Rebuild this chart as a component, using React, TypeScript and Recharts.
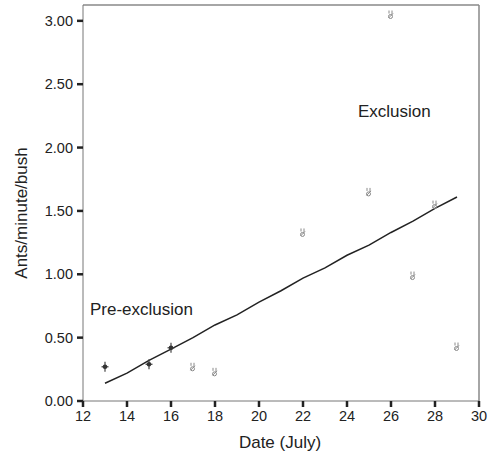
import React from 'react';
import {
  ComposedChart,
  Scatter,
  Line,
  XAxis,
  YAxis,
  ReferenceLine,
} from 'recharts';

// observed ant activity before exclusion (dark markers)
const preDates = [13, 15, 16];
const preValues = [0.27, 0.29, 0.42];

// observed ant activity after exclusion (grey markers)
const exclDates = [17, 18, 22, 25, 26, 27, 28, 29];
const exclValues = [0.27, 0.23, 1.33, 1.65, 3.05, 0.99, 1.55, 0.43];

// fitted trend line
const fitDates = [13, 14, 15, 16, 17, 18, 19, 20, 21, 22, 23, 24, 25, 26, 27, 28, 29];
const fitValues = [0.14, 0.22, 0.32, 0.41, 0.5, 0.6, 0.68, 0.78, 0.87, 0.97, 1.05, 1.15, 1.23, 1.33, 1.42, 1.52, 1.61];

const xTicks = [12, 14, 16, 18, 20, 22, 24, 26, 28, 30];
const yTicks = [0, 0.5, 1, 1.5, 2, 2.5, 3];

const preData = preDates.map((d, i) => ({ date: d, value: preValues[i] }));
const exclData = exclDates.map((d, i) => ({ date: d, value: exclValues[i] }));
const fitData = fitDates.map((d, i) => ({ date: d, fit: fitValues[i] }));

const FONT = '"Liberation Sans", Arial, sans-serif';

// dark crosshair-like marker
const PreMarker = ({ cx, cy }: any) => (
  <g>
    <line x1={cx} y1={cy - 5} x2={cx} y2={cy + 5} stroke="#444" strokeWidth={1.2} />
    <line x1={cx - 3.5} y1={cy} x2={cx + 3.5} y2={cy} stroke="#444" strokeWidth={1.2} />
    <circle cx={cx} cy={cy} r={2.3} fill="#333" />
  </g>
);

// small grey glyph marker
const ExclMarker = ({ cx, cy }: any) => (
  <g fill="none" stroke="#8a8a8a" strokeWidth={1}>
    <ellipse cx={cx - 0.5} cy={cy + 2} rx={2} ry={2} />
    <line x1={cx - 2} y1={cy - 4} x2={cx - 2} y2={cy - 1} />
    <line x1={cx + 1} y1={cy - 4} x2={cx + 1} y2={cy} />
    <line x1={cx - 2.5} y1={cy + 3.5} x2={cx + 2} y2={cy - 1} />
  </g>
);

const textStyle: React.CSSProperties = {
  position: 'absolute',
  fontFamily: FONT,
  fontSize: 17,
  color: '#222',
  whiteSpace: 'nowrap',
  lineHeight: 1,
};

export default function App() {
  return (
    <div style={{ position: 'absolute', left: 0, top: 0, width: 492, height: 457, background: '#fff' }}>
      <ComposedChart
        width={492}
        height={457}
        margin={{ top: 5, right: 13, bottom: 0, left: 0 }}
      >
        <XAxis
          type="number"
          dataKey="date"
          domain={[12, 30]}
          ticks={xTicks}
          height={56}
          axisLine={{ stroke: '#777' }}
          tickLine={{ stroke: '#222', strokeWidth: 2.5 }}
          tickSize={6}
          tickMargin={4}
          tick={{ fill: '#222', fontSize: 14.5, fontFamily: FONT }}
          allowDuplicatedCategory={false}
        />
        <YAxis
          type="number"
          domain={[0, 3.125]}
          ticks={yTicks}
          width={83}
          axisLine={{ stroke: '#777' }}
          tickLine={{ stroke: '#222', strokeWidth: 2.5 }}
          tickSize={6}
          tickMargin={4}
          tick={{ fill: '#222', fontSize: 14.5, fontFamily: FONT }}
          tickFormatter={(v: number) => v.toFixed(2)}
        />
        <ReferenceLine y={3.125} stroke="#888" strokeWidth={1.5} />
        <ReferenceLine x={30} stroke="#888" strokeWidth={1.5} />
        <Line
          data={fitData}
          dataKey="fit"
          type="linear"
          stroke="#222"
          strokeWidth={1.5}
          dot={false}
          isAnimationActive={false}
        />
        <Scatter data={preData} dataKey="value" shape={<PreMarker />} isAnimationActive={false} />
        <Scatter data={exclData} dataKey="value" shape={<ExclMarker />} isAnimationActive={false} />
      </ComposedChart>
      <div style={{ ...textStyle, left: 358, top: 103 }}>Exclusion</div>
      <div style={{ ...textStyle, left: 90, top: 301 }}>Pre-exclusion</div>
      <div style={{ ...textStyle, left: 280, top: 434, transform: 'translateX(-50%)' }}>Date (July)</div>
      <div
        style={{
          ...textStyle,
          left: 21,
          top: 213,
          transform: 'translate(-50%, -50%) rotate(-90deg)',
        }}
      >
        Ants/minute/bush
      </div>
    </div>
  );
}
